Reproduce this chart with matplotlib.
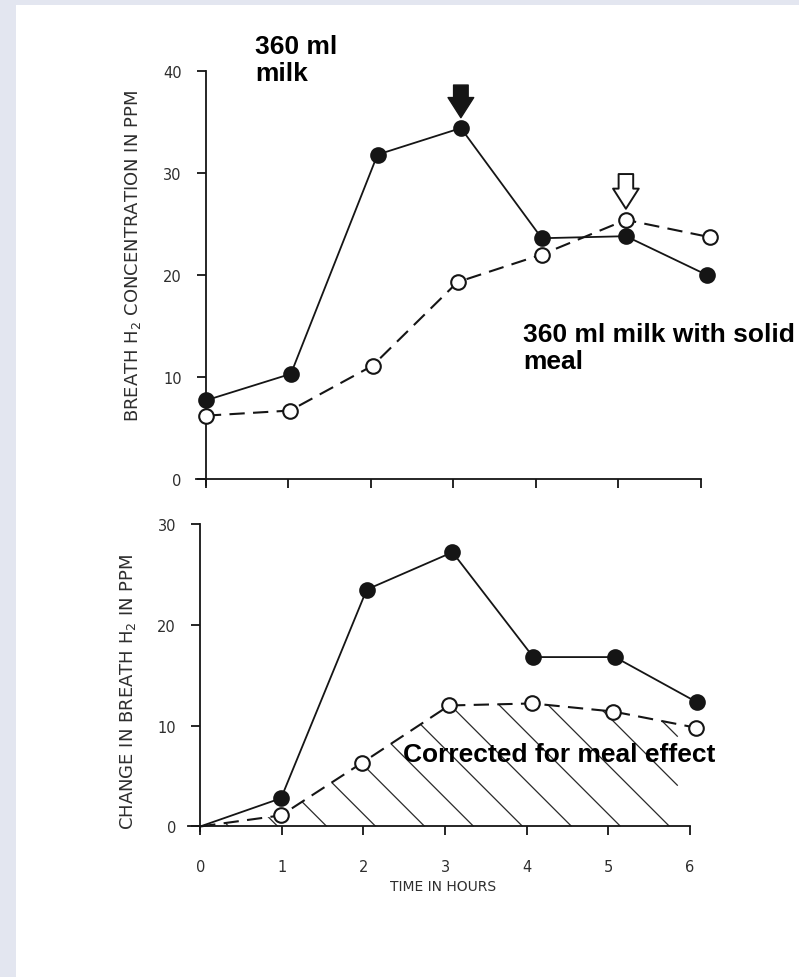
import matplotlib
matplotlib.use("Agg")
import matplotlib.pyplot as plt
import numpy as np
from matplotlib.patches import Rectangle, Polygon
from matplotlib.collections import LineCollection

plt.rcParams['lines.scale_dashes'] = False

# ---------------- data ----------------
hours_ticks = [0, 1, 2, 3, 4, 5, 6]
top_yticks = [0, 10, 20, 30, 40]
bot_yticks = [0, 10, 20, 30]

# upper panel: breath H2 concentration (ppm)
milk_t = [0.0, 1.03, 2.08, 3.09, 4.07, 5.09, 6.07]
milk_h2 = [7.7, 10.3, 31.8, 34.4, 23.6, 23.8, 20.0]
meal_t = [0.0, 1.02, 2.02, 3.05, 4.07, 5.09, 6.11]
meal_h2 = [6.2, 6.7, 11.1, 19.3, 22.0, 25.4, 23.7]

# lower panel: change in breath H2 (ppm)
chg_milk_t = [0.0, 0.99, 2.04, 3.09, 4.08, 5.08, 6.09]
chg_milk = [0.0, 2.8, 23.5, 27.2, 16.8, 16.8, 12.3]
chg_corr_t = [0.0, 0.99, 1.98, 3.05, 4.07, 5.06, 6.07]
chg_corr = [0.0, 1.1, 6.3, 12.0, 12.2, 11.4, 9.8]

# ---------------- figure ----------------
W, H = 799, 978
fig = plt.figure(figsize=(W / 100, H / 100), dpi=100)
fig.patch.set_facecolor('#e3e6f0')
fig.patches.append(Rectangle((16 / W, 0), 1, 1 - 6 / H, transform=fig.transFigure,
                             facecolor='white', edgecolor='none', zorder=-5))


def fx(x):
    return x / W


def fy(y):
    return 1 - y / H


INK = '#151515'
TXT = '#2e2e2e'

# axes placement (pixel-derived)
ax1 = fig.add_axes([fx(196), fy(486), fx(701) - fx(196), fy(72) - fy(486)])
ax2 = fig.add_axes([fx(188), fy(832), fx(690) - fx(188), fy(525) - fy(832)])

for ax in (ax1, ax2):
    ax.set_facecolor('none')
    ax.spines['top'].set_visible(False)
    ax.spines['right'].set_visible(False)
    ax.spines['left'].set_position(('data', 0))
    ax.spines['bottom'].set_position(('data', 0))
    for s in ('left', 'bottom'):
        ax.spines[s].set_linewidth(1.3)
        ax.spines[s].set_color(INK)
    ax.tick_params(axis='both', direction='out', length=6.5, width=1.3, color=INK,
                   labelcolor=TXT, labelsize=10.5)
    ax.tick_params(axis='y', pad=11)
    ax.tick_params(axis='x', pad=17)
    ax.set_xticks(hours_ticks)

ax1.set_xlim(-0.12, 6)
ax1.set_ylim(-0.6, 40)
ax1.set_yticks(top_yticks)
ax1.set_xticklabels([])
ax1.set_ylabel('BREATH H$_2$ CONCENTRATION IN PPM', fontsize=13, color=TXT)

ax2.set_xlim(-0.15, 6)
ax2.set_ylim(-0.45, 30)
ax2.set_yticks(bot_yticks)
ax2.set_xticklabels([str(h) for h in hours_ticks])
ax2.set_ylabel('CHANGE IN BREATH H$_2$ IN PPM', fontsize=13, color=TXT)
ax2.set_xlabel('TIME IN HOURS', fontsize=10, color=TXT)

# place axis labels in figure pixels
ax1.yaxis.set_label_coords(fx(133), fy(256), transform=fig.transFigure)
ax2.yaxis.set_label_coords(fx(128), fy(692), transform=fig.transFigure)
ax2.xaxis.set_label_coords(fx(443), fy(887), transform=fig.transFigure)
ax1.yaxis.label.set_va('center')
ax2.yaxis.label.set_va('center')
ax2.xaxis.label.set_va('center')

dash = (0, (11, 6))
mk = dict(markersize=10.5, markeredgewidth=1.5, markeredgecolor=INK)

# upper panel lines
ax1.plot(milk_t, milk_h2, '-', color=INK, lw=1.3, marker='o', markerfacecolor=INK,
         zorder=4, clip_on=False, **mk)
ax1.plot(meal_t, meal_h2, linestyle=dash, color=INK, lw=1.5, marker='o',
         markerfacecolor='white', zorder=3, clip_on=False, **mk)

# arrows
ax1.annotate('', xy=(milk_t[3], milk_h2[3]), xytext=(0, 31), textcoords='offset points',
             arrowprops=dict(arrowstyle='simple,head_length=1.45,head_width=1.85,tail_width=1.05',
                             mutation_scale=10, shrinkA=0, shrinkB=7.5,
                             fc=INK, ec=INK, lw=1.0))
ax1.annotate('', xy=(meal_t[5], meal_h2[5]), xytext=(0, 33), textcoords='offset points',
             arrowprops=dict(arrowstyle='simple,head_length=1.45,head_width=1.85,tail_width=1.05',
                             mutation_scale=10, shrinkA=0, shrinkB=8,
                             fc='white', ec=INK, lw=1.4))

# lower panel lines
ax2.plot(chg_milk_t, chg_milk, '-', color=INK, lw=1.3, marker='o', markerfacecolor=INK,
         markevery=slice(1, None), zorder=4, clip_on=False, **mk)
ax2.plot(chg_corr_t, chg_corr, linestyle=dash, color=INK, lw=1.5, marker='o',
         markerfacecolor='white', markevery=slice(1, None), zorder=3, clip_on=False, **mk)

# hatched area under the corrected curve
clip_poly = Polygon(list(zip(chg_corr_t, chg_corr)) + [(chg_corr_t[-1], 0.0)],
                    closed=True, facecolor='none', edgecolor='none',
                    transform=ax2.transData)
ax2.add_patch(clip_poly)
fig.canvas.draw()
p0 = ax2.transData.transform((0, 0))
p1 = ax2.transData.transform((1, 1))
px_per_h = p1[0] - p0[0]
px_per_ppm = p1[1] - p0[1]
slope = px_per_h / px_per_ppm          # ppm per hour for a 45-degree pixel line
x_right = 5.85
spacing = 0.6
segs = []
for k in range(-4, 16):
    xb = 1.55 + spacing * k
    if xb <= 0:
        continue
    if xb <= x_right:
        start = (xb, 0.0)
    else:
        start = (x_right, (xb - x_right) * slope)
    s_end = xb
    end = (xb - s_end, s_end * slope)
    segs.append([start, end])
lc = LineCollection(segs, colors='#2a2a2a', linewidths=0.9, zorder=2)
ax2.add_collection(lc)
lc.set_clip_path(clip_poly)

# annotations
bold = dict(fontfamily='Liberation Sans', fontweight='bold', fontsize=19, color='black',
            va='baseline', ha='left')
fig.text(fx(255), fy(54), '360 ml', **bold)
fig.text(fx(255), fy(81), 'milk', **bold)
fig.text(fx(523), fy(342), '360 ml milk with solid', **bold)
fig.text(fx(523), fy(369), 'meal', **bold)
fig.text(fx(403), fy(762), 'Corrected for meal effect', zorder=10, **bold)

fig.savefig('out.png', dpi=100, facecolor=fig.get_facecolor())
